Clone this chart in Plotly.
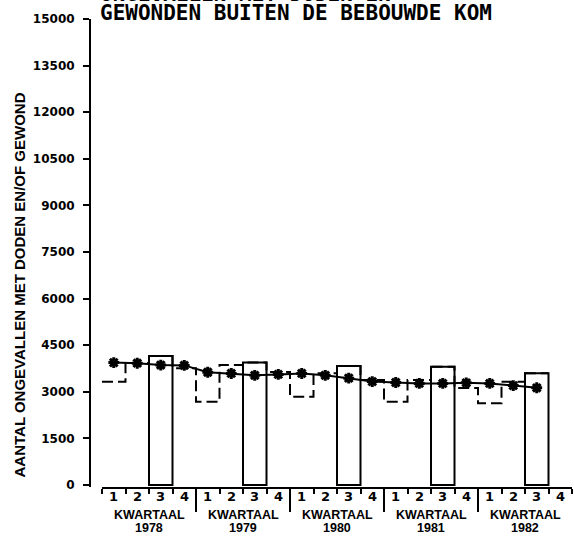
import plotly.graph_objects as go

# ---- data ----
years = ["1978", "1979", "1980", "1981", "1982"]
quarter_labels = ["1", "2", "3", "4"]
# quarterly counts (dashed step line); Q4 1982 not available
actual = [3320, 3930, 4150, 3760,
          2680, 3860, 3940, 3640,
          2840, 3600, 3830, 3380,
          2680, 3380, 3810, 3120,
          2630, 3320, 3600, None]
# trend (line with asterisks)
trend = [3940, 3920, 3860, 3850,
         3630, 3590, 3530, 3560,
         3590, 3530, 3440, 3330,
         3300, 3270, 3270, 3290,
         3270, 3200, 3130, None]
y_ticks = [0, 1500, 3000, 4500, 6000, 7500, 9000, 10500, 12000, 13500, 15000]

title_line1 = "ONGEVALLEN MET DODEN EN"
title_line2 = "GEWONDEN BUITEN DE BEBOUWDE KOM"
y_title = "AANTAL ONGEVALLEN MET DODEN EN/OF GEWOND"
year_word = "KWARTAAL"

# ---- derived positions (quarter index i spans [i, i+1]) ----
nq = len(years) * len(quarter_labels)
centers = [i + 0.5 for i in range(nq)]
q3_idx = [i for i in range(nq) if i % 4 == 2 and actual[i] is not None]
q3_x = [centers[i] for i in q3_idx]
q3_y = [actual[i] for i in q3_idx]

n_av = len([v for v in actual if v is not None])
step_x = list(range(n_av)) + [n_av]
step_y = actual[:n_av] + [actual[n_av - 1]]

tr_x = [centers[i] for i in range(nq) if trend[i] is not None]
tr_y = [v for v in trend if v is not None]

W, H = 574, 552
ml, mr, mt, mb = 90, 2, 19, 65
pw, ph = W - ml - mr, H - mt - mb


def px_x(px):
    return (px - ml) / pw


def px_y(py):
    return (H - mb - py) / ph


fig = go.Figure()
fig.add_trace(go.Bar(
    x=q3_x, y=q3_y, width=1,
    marker=dict(color="rgba(0,0,0,0)", line=dict(color="black", width=2)),
    xaxis="x", yaxis="y", showlegend=False, hoverinfo="skip"))
fig.add_trace(go.Scatter(
    x=step_x, y=step_y, mode="lines", line_shape="hv",
    line=dict(color="black", width=2, dash="11px,5px"),
    showlegend=False, hoverinfo="skip"))
fig.add_trace(go.Scatter(
    x=tr_x, y=tr_y, mode="lines+markers",
    line=dict(color="black", width=2),
    marker=dict(symbol="asterisk-open", size=9, color="black",
                line=dict(color="black", width=3)),
    showlegend=False, hoverinfo="skip"))

title_font = dict(family="DejaVu Sans Mono", size=21, color="black", weight="bold")
annotations = []
# title (first line runs off the top edge, as in the original)
annotations.append(dict(text=title_line1, xref="paper", yref="paper",
                        x=px_x(98), y=px_y(-5.5), xanchor="left", yanchor="middle",
                        showarrow=False, font=title_font))
annotations.append(dict(text=title_line2, xref="paper", yref="paper",
                        x=px_x(98), y=px_y(12.5), xanchor="left", yanchor="middle",
                        showarrow=False, font=title_font))
# y axis title
annotations.append(dict(text=y_title, xref="paper", yref="paper",
                        x=px_x(18.5), y=px_y(285), xanchor="center", yanchor="middle",
                        textangle=-90, showarrow=False,
                        font=dict(family="Liberation Sans", size=15, color="black",
                                  weight="bold")))
# quarter numbers
for i in range(nq):
    annotations.append(dict(text=quarter_labels[i % 4], xref="x", yref="paper",
                            x=centers[i], y=px_y(497), xanchor="center",
                            yanchor="middle", showarrow=False,
                            font=dict(family="DejaVu Sans", size=13, color="black",
                                      weight="bold")))
# year labels
for k, yr in enumerate(years):
    xc = k * 4 + 2
    annotations.append(dict(text=year_word, xref="x", yref="paper",
                            x=xc, y=px_y(515), xanchor="center", yanchor="middle",
                            showarrow=False,
                            font=dict(family="Liberation Sans", size=12.5,
                                      color="black", weight="bold")))
    annotations.append(dict(text=yr, xref="x", yref="paper",
                            x=xc, y=px_y(528), xanchor="center", yanchor="middle",
                            showarrow=False,
                            font=dict(family="Liberation Sans", size=12.5,
                                      color="black", weight="bold")))

fig.update_layout(
    width=W, height=H,
    margin=dict(l=ml, r=mr, t=mt, b=mb, pad=0, autoexpand=False),
    paper_bgcolor="white", plot_bgcolor="white",
    showlegend=False,
    annotations=annotations,
    xaxis=dict(domain=[12 / pw, 1], range=[0, nq], showgrid=False, zeroline=False,
               showline=True, linecolor="black", linewidth=2,
               tickmode="array", tickvals=[4, 8, 12, 16], ticks="outside",
               ticklen=23, tickwidth=2, tickcolor="black", showticklabels=False,
               minor=dict(tickmode="array", tickvals=list(range(nq + 1)),
                          ticks="outside", ticklen=5, tickwidth=2,
                          tickcolor="black", showgrid=False),
               fixedrange=True, automargin=False),
    yaxis=dict(anchor="free", position=0, range=[-64, 15000], showgrid=False,
               zeroline=False, showline=True, linecolor="black", linewidth=2,
               tickmode="array", tickvals=y_ticks,
               ticktext=[str(v) for v in y_ticks], ticks="outside", ticklen=6,
               tickwidth=2, tickcolor="black",
               tickfont=dict(family="DejaVu Sans", size=12, color="black",
                             weight="bold"),
               ticklabelstandoff=6, fixedrange=True, automargin=False),
)

fig.write_html("out.html",
               config={"displayModeBar": False, "staticPlot": True},
               post_script="document.body.style.margin='0';"
                           "document.body.style.overflow='hidden';")
